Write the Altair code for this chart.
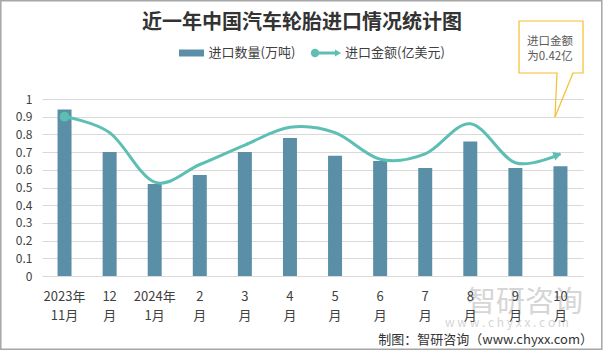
import altair as alt
import pandas as pd

# ---------------- data ----------------
months = ["2023年11月", "2023年12月", "2024年1月", "2024年2月", "2024年3月", "2024年4月",
          "2024年5月", "2024年6月", "2024年7月", "2024年8月", "2024年9月", "2024年10月"]
label_top = ["2023年", "12", "2024年", "2", "3", "4", "5", "6", "7", "8", "9", "10"]
label_bottom = ["11月", "月", "1月", "月", "月", "月", "月", "月", "月", "月", "月", "月"]
volume = [0.94, 0.70, 0.52, 0.57, 0.70, 0.78, 0.68, 0.65, 0.61, 0.76, 0.61, 0.62]   # 进口数量(万吨)
amount = [0.90, 0.81, 0.53, 0.63, 0.74, 0.84, 0.81, 0.66, 0.69, 0.86, 0.64, 0.69]   # 进口金额(亿美元)
y_ticks = [0, 0.1, 0.2, 0.3, 0.4, 0.5, 0.6, 0.7, 0.8, 0.9, 1]

title_text = "近一年中国汽车轮胎进口情况统计图"
legend_bar = "进口数量(万吨)"
legend_line = "进口金额(亿美元)"
callout_lines = ["进口金额", "为0.42亿"]
footer_text = "制图：智研咨询（www.chyxx.com）"
wm_big = "智研咨询"
wm_small = "w w w . c h y x x . c o m"

BAR = "#5B8FA7"
LINE = "#5DBFB4"
GOLD = "#F5BE2E"
TXT = "#404040"
FONT = "Noto Sans CJK SC"

df = pd.DataFrame({"month": months, "top": label_top, "bottom": label_bottom,
                   "volume": volume, "amount": amount})
one = pd.DataFrame({"k": [0]})

W, H = 541, 177

x_enc = alt.X("month:N", sort=months,
              scale=alt.Scale(paddingInner=0, paddingOuter=0), axis=None)
y_scale = alt.Scale(domain=[0, 1], nice=False, zero=True)
y_axis = alt.Axis(values=y_ticks, tickCount=11, format=".1~f", grid=True,
                  gridColor="#D9D9D9", gridWidth=1, domain=False, ticks=False,
                  labelPadding=10, labelOverlap=False, labelFontSize=12, labelFont=FONT,
                  labelColor=TXT, title=None)

base = alt.Chart(df)

bars = base.mark_bar(size=14, color=BAR).encode(
    x=x_enc, y=alt.Y("volume:Q", scale=y_scale, axis=y_axis))

line = base.mark_line(interpolate="cardinal", color=LINE, strokeWidth=3).encode(
    x=x_enc, y=alt.Y("amount:Q", scale=y_scale, axis=y_axis))

start_pt = base.transform_filter(alt.datum.month == months[0]).mark_circle(
    size=95, color=LINE, opacity=1).encode(
    x=x_enc, y=alt.Y("amount:Q", scale=y_scale, axis=y_axis))

end_arrow = base.transform_filter(alt.datum.month == months[-1]).mark_point(
    shape="triangle-right", filled=True, size=80, angle=340, color=LINE, opacity=1,
    xOffset=-3, yOffset=1).encode(
    x=x_enc, y=alt.Y("amount:Q", scale=y_scale, axis=y_axis))

xlab1 = base.mark_text(fontSize=13, font=FONT, color=TXT, baseline="middle").encode(
    x=x_enc, y=alt.value(198), text="top:N")
xlab2 = base.mark_text(fontSize=13, font=FONT, color=TXT, baseline="middle").encode(
    x=x_enc, y=alt.value(217), text="bottom:N")

deco = alt.Chart(one)

# watermark (behind labels)
wm1 = deco.mark_text(fontSize=29, font=FONT, color="#D6D6D6", align="center",
                     baseline="middle").encode(x=alt.value(483), y=alt.value(204),
                                               text=alt.value(wm_big))
wm2 = deco.mark_text(fontSize=12, font=FONT, color="#D6D6D6", align="center",
                     baseline="middle").encode(x=alt.value(465), y=alt.value(224),
                                               text=alt.value(wm_small))

title = deco.mark_text(fontSize=20, font=FONT, fontWeight="bold", color="#333333",
                       align="center", baseline="middle").encode(
    x=alt.value(260), y=alt.value(-76), text=alt.value(title_text))

leg_rect = deco.mark_rect(color=BAR).encode(
    x=alt.value(137), x2=alt.value(162), y=alt.value(-49.5), y2=alt.value(-42.5))
leg_t1 = deco.mark_text(fontSize=13, font=FONT, color=TXT, align="left",
                        baseline="middle").encode(x=alt.value(166.5), y=alt.value(-46),
                                                  text=alt.value(legend_bar))
leg_line = deco.mark_rule(color=LINE, strokeWidth=3).encode(
    x=alt.value(273), x2=alt.value(295), y=alt.value(-46))
leg_dot = deco.mark_circle(size=70, color=LINE, opacity=1).encode(
    x=alt.value(273), y=alt.value(-46))
leg_tri = deco.mark_point(shape="triangle-right", filled=True, size=50, color=LINE,
                          opacity=1).encode(x=alt.value(296), y=alt.value(-46))
leg_t2 = deco.mark_text(fontSize=13, font=FONT, color=TXT, align="left",
                        baseline="middle").encode(x=alt.value(303), y=alt.value(-46),
                                                  text=alt.value(legend_line))

# callout
call_box = deco.mark_rect(fill="white", stroke=GOLD, strokeWidth=1.2).encode(
    x=alt.value(477), x2=alt.value(541), y=alt.value(-78), y2=alt.value(-26))
call_gap = deco.mark_rule(color="white", strokeWidth=2.5).encode(
    x=alt.value(515.5), x2=alt.value(530.5), y=alt.value(-26))
call_l = deco.mark_rule(color=GOLD, strokeWidth=1.2).encode(
    x=alt.value(515), y=alt.value(-26), x2=alt.value(513), y2=alt.value(18))
call_r = deco.mark_rule(color=GOLD, strokeWidth=1.2).encode(
    x=alt.value(531), y=alt.value(-26), x2=alt.value(513), y2=alt.value(18))
call_t1 = deco.mark_text(fontSize=11.5, font=FONT, color="#595959", align="center",
                         baseline="middle").encode(x=alt.value(508), y=alt.value(-57),
                                                   text=alt.value(callout_lines[0]))
call_t2 = deco.mark_text(fontSize=11.5, font=FONT, color="#595959", align="center",
                         baseline="middle").encode(x=alt.value(508), y=alt.value(-42),
                                                   text=alt.value(callout_lines[1]))

footer = deco.mark_text(fontSize=13, font=FONT, color="#333333", align="right",
                        baseline="middle").encode(x=alt.value(551), y=alt.value(241),
                                                  text=alt.value(footer_text))

border = deco.mark_rect(fillOpacity=0, stroke="#A6A6A6", strokeWidth=1.5).encode(
    x=alt.value(-41.2), x2=alt.value(559.8), y=alt.value(-98.2), y2=alt.value(250.2))

chart = alt.layer(
    border, bars, line, start_pt, end_arrow, wm1, wm2, xlab1, xlab2,
    title, leg_rect, leg_t1, leg_line, leg_dot, leg_tri, leg_t2,
    call_box, call_gap, call_l, call_r, call_t1, call_t2, footer
).properties(
    width=W, height=H,
    autosize=alt.AutoSizeParams(type="none"),
    padding={"left": 42, "top": 99, "right": 21, "bottom": 75},
    background="white",
).configure_view(stroke=None)

chart.save("out.html", embed_options={"renderer": "svg", "actions": False})
